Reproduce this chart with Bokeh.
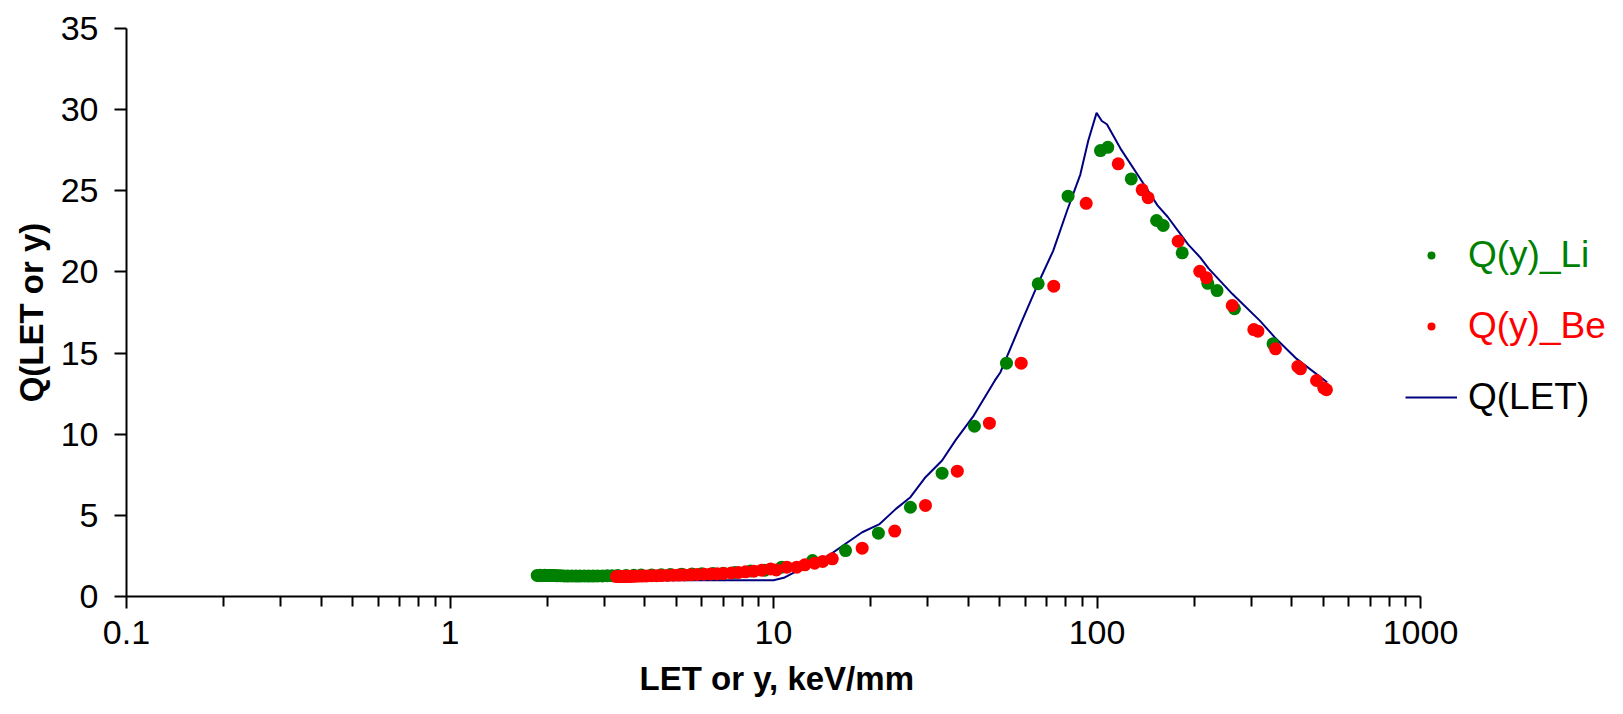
from bokeh.plotting import figure
from bokeh.models import Range1d, FixedTicker, Legend, LegendItem, Title
from bokeh.embed import file_html
from bokeh.resources import INLINE

# ---------------- data ----------------
li_x = [1.86, 1.88, 1.90, 1.92, 1.94, 1.96, 1.98, 2.00, 2.02, 2.04, 2.06, 2.08, 2.10, 2.13, 2.16, 2.20,
        2.25, 2.31, 2.38, 2.45, 2.52, 2.60, 2.68, 2.77, 2.86, 2.96, 3.06, 3.17,
        3.30, 3.50, 3.70, 3.90, 4.20, 4.50, 4.80, 5.20, 5.60, 6.00, 6.50, 7.00, 7.60, 8.50, 9.40, 10.6,
        13.2, 16.7, 21.1, 26.5, 33.2, 41.8, 52.5, 65.8, 81.4, 102.5, 108.0, 127.6, 152.8, 160.2,
        183.4, 220.0, 235.0, 266.0, 350.0]
li_y = [1.30, 1.30, 1.31, 1.30, 1.30, 1.31, 1.30, 1.30, 1.29, 1.30, 1.30, 1.29, 1.29, 1.28, 1.28, 1.28,
        1.27, 1.26, 1.27, 1.26, 1.26, 1.27, 1.26, 1.26, 1.27, 1.27, 1.28, 1.28,
        1.29, 1.30, 1.31, 1.32, 1.33, 1.34, 1.35, 1.37, 1.38, 1.40, 1.41, 1.44, 1.48, 1.57, 1.62, 1.81,
        2.22, 2.83, 3.90, 5.50, 7.60, 10.49, 14.38, 19.27, 24.67, 27.48, 27.68, 25.73, 23.17, 22.86,
        21.18, 19.30, 18.85, 17.73, 15.57]

be_x = [3.27, 3.32, 3.37, 3.42, 3.47, 3.52, 3.57, 3.62, 3.67,
        3.75, 3.85, 3.95, 4.05, 4.20, 4.35, 4.50, 4.70, 4.90, 5.10, 5.30, 5.55, 5.80, 6.10, 6.40,
        6.70, 7.00, 7.40, 7.80, 8.20, 8.70, 9.20, 9.80,
        10.2, 11.0, 11.8, 12.5, 13.4, 14.2, 15.2, 18.8, 23.7, 29.5, 37.0, 46.5, 58.3, 73.5, 92.6,
        116.3, 137.9, 143.9, 178.2, 207.8, 217.9, 261.8, 305.3, 314.3, 356.3, 417.6, 425.6,
        477.0, 502.0, 512.0]
be_y = [1.23, 1.23, 1.24, 1.23, 1.24, 1.24, 1.25, 1.24, 1.25,
        1.25, 1.26, 1.27, 1.27, 1.28, 1.28, 1.29, 1.30, 1.31, 1.32, 1.33, 1.34, 1.36, 1.37, 1.39,
        1.40, 1.42, 1.45, 1.48, 1.52, 1.56, 1.62, 1.70,
        1.64, 1.81, 1.81, 1.95, 2.05, 2.16, 2.32, 2.98, 4.03, 5.61, 7.72, 10.68, 14.38, 19.12, 24.23,
        26.66, 25.06, 24.57, 21.89, 20.04, 19.64, 17.93, 16.45, 16.35, 15.26, 14.17, 14.03,
        13.31, 12.86, 12.74]

let_x = [1.86, 10.0, 10.76, 12.0, 13.6, 15.0, 16.7, 18.8, 21.2, 23.9, 26.5, 29.5, 33.2, 36.6, 41.6,
         48.3, 50.3, 58.1, 65.7, 73.2, 80.9, 88.8, 94.0, 99.7, 103.5, 107.3, 118.2, 139.6,
         153.8, 165.3, 191.2, 209.0, 221.5, 261.8, 318.6, 353.8, 414.4, 514.6]
let_y = [1.0, 1.0, 1.15, 1.64, 2.15, 2.60, 3.25, 3.96, 4.44, 5.40, 6.12, 7.35, 8.38, 9.65, 11.15,
         13.30, 13.82, 16.80, 19.27, 21.30, 23.80, 26.00, 28.10, 29.80, 29.30, 29.10, 27.60, 25.40,
         24.10, 23.40, 21.70, 20.87, 20.20, 18.65, 17.00, 15.98, 14.64, 13.20]

x_tick_values = [0.1, 1, 10, 100, 1000]
x_tick_labels = ["0.1", "1", "10", "100", "1000"]
y_tick_values = [0, 5, 10, 15, 20, 25, 30, 35]

x_title = "LET or y, keV/mm"
y_title = "Q(LET or y)"
series_names = ["Q(y)_Li", "Q(y)_Be", "Q(LET)"]
series_colors = ["#008000", "#FF0000", "#000080"]

FONT = "Liberation Sans"

# ---------------- layout ----------------
AXIS_PX = 1294            # pixel length of the drawn x axis (0.1 .. 1000)
FRAME_W = 1494            # frame extends to the right to host the legend
FRAME_H = 568
x_start, x_axis_end = x_tick_values[0], x_tick_values[-1]
decades = 4
x_end = x_start * 10 ** (decades * FRAME_W / AXIS_PX)

p = figure(
    x_axis_type="log",
    x_range=Range1d(x_start, x_end),
    y_range=Range1d(0, 35),
    frame_width=FRAME_W, frame_height=FRAME_H,
    min_border_left=126, min_border_right=0,
    min_border_top=28, min_border_bottom=110,
    output_backend="svg", toolbar_location=None,
    background_fill_color="white", border_fill_color="white",
)
p.outline_line_color = None
p.xgrid.visible = False
p.ygrid.visible = False

minor = [m * d for d in (0.1, 1, 10, 100) for m in range(2, 10)]
p.xaxis.ticker = FixedTicker(ticks=x_tick_values, minor_ticks=minor)
p.xaxis.major_label_overrides = {v: s for v, s in zip(x_tick_values, x_tick_labels)}
p.xaxis.bounds = (x_start, x_axis_end)
p.yaxis.ticker = FixedTicker(ticks=y_tick_values, minor_ticks=[])

for ax in (p.xaxis[0], p.yaxis[0]):
    ax.axis_line_color = "black"
    ax.axis_line_width = 2
    ax.major_tick_line_color = "black"
    ax.major_tick_line_width = 2
    ax.major_tick_in = 0
    ax.major_tick_out = 12
    ax.minor_tick_line_color = "black"
    ax.minor_tick_line_width = 2
    ax.minor_tick_in = 0
    ax.minor_tick_out = 10
    ax.major_label_text_font = FONT
    ax.major_label_text_font_size = "34px"
    ax.major_label_text_color = "black"
    ax.axis_label_text_font = FONT
    ax.axis_label_text_font_size = "33px"
    ax.axis_label_text_font_style = "bold"
    ax.axis_label_text_color = "black"

p.yaxis.axis_label = y_title
p.xaxis.major_label_standoff = 12
p.yaxis.major_label_standoff = 16
p.yaxis.axis_label_standoff = 8

# x-axis title: placed like the reference (centred under the plot area, not the frame)
xt = Title(text=x_title, align="left", offset=513,
           text_font=FONT, text_font_size="33px", text_font_style="bold",
           text_color="black", standoff=23)
p.add_layout(xt, "below")

# ---------------- glyphs ----------------
r_let = p.line(let_x, let_y, line_color=series_colors[2], line_width=2)
r_li = p.scatter(li_x, li_y, size=13, fill_color=series_colors[0], line_color=None)
r_be = p.scatter(be_x, be_y, size=13, fill_color=series_colors[1], line_color=None)

label_colors = [series_colors[0], series_colors[1], "black"]
renderers = [r_li, r_be, r_let]
locations = [(1279, 320), (1279, 249), (1279, 178)]
for name, col, rnd, loc in zip(series_names, label_colors, renderers, locations):
    lg = Legend(items=[LegendItem(label=name, renderers=[rnd])], location=loc)
    lg.label_text_font = FONT
    lg.label_text_font_size = "37px"
    lg.label_text_color = col
    lg.glyph_width = 52
    lg.glyph_height = 20
    lg.label_standoff = 11
    lg.padding = 0
    lg.margin = 0
    lg.spacing = 0
    lg.border_line_alpha = 0
    lg.background_fill_alpha = 0
    p.add_layout(lg, "center")

open("out.html", "w").write(file_html(p, INLINE))
